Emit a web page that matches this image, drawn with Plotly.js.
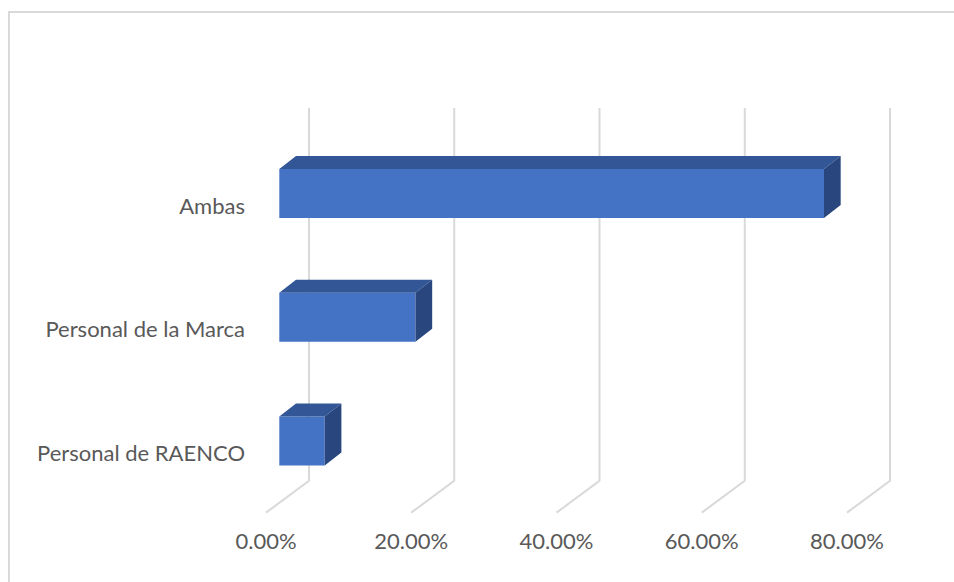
<!DOCTYPE html>
<html>
<head>
<meta charset="utf-8">
<script src="https://cdn.plot.ly/plotly-3.0.1.min.js"></script>
<style>html,body{margin:0;padding:0;background:#fff;}#chart{width:954px;height:582px;}</style>
</head>
<body>
<div id="chart"></div>
<script>
// ---- data ----
var categories = ["Personal de RAENCO", "Personal de la Marca", "Ambas"];
var values = [6.25, 18.75, 75];            // percent
var tickValues = [0, 20, 40, 60, 80];
var tickLabels = ["0.00%", "20.00%", "40.00%", "60.00%", "80.00%"];

// ---- 3D look parameters (in axis units) ----
var barHalf = 0.198;     // half bar thickness (category units)
var depthX = 2.3;        // bar depth, x offset (percent units)
var depthY = 0.105;      // bar depth, y offset (category units)
var wallX = 4.09;        // back wall offset of gridlines
var floorX = -1.83;      // front edge of floor
var wallTop = 2.691, wallBottom = -0.321, floorFront = -0.579;
var labelShiftY = 0.1;

var pos = categories.map(function(_, i){ return i; });

// gridlines (back wall + floor)
var gx = [], gy = [];
tickValues.forEach(function(v){
  gx.push(v + wallX, v + wallX, v + floorX, null);
  gy.push(wallTop, wallBottom, floorFront, null);
});

// top faces and side faces
var tx = [], ty = [], sx = [], sy = [];
values.forEach(function(v, i){
  var c = pos[i], top = c + barHalf, bot = c - barHalf;
  tx.push(0, v, v + depthX, depthX, 0, null);
  ty.push(top, top, top + depthY, top + depthY, top, null);
  sx.push(v, v, v + depthX, v + depthX, v, null);
  sy.push(bot, top, top + depthY, bot + depthY, bot, null);
});

var L = 250, R = 44, T = 90, B = 56, W = 954, H = 582;
var pxPerX = 7.2625, pxPerY = 123.75;
var x0 = -(279.3 - L) / pxPerX;
var x1 = x0 + (W - L - R) / pxPerX;
var y1 = (441 - T) / pxPerY;
var y0 = y1 - (H - T - B) / pxPerY;

var data = [
  {type: "scatter", mode: "lines", x: gx, y: gy, xaxis: "x", yaxis: "y",
   line: {color: "#d9d9d9", width: 2}, hoverinfo: "skip", showlegend: false},
  {type: "bar", orientation: "h", x: values, y: pos, base: 0, width: 2 * barHalf,
   xaxis: "x2", yaxis: "y2",
   marker: {color: "#4472C4", line: {width: 0}}, hoverinfo: "skip", showlegend: false},
  {type: "scatter", mode: "none", x: tx, y: ty, fill: "toself", fillcolor: "#325696",
   xaxis: "x2", yaxis: "y2", hoverinfo: "skip", showlegend: false},
  {type: "scatter", mode: "none", x: sx, y: sy, fill: "toself", fillcolor: "#29477E",
   xaxis: "x2", yaxis: "y2", hoverinfo: "skip", showlegend: false}
];

var plotW = W - L - R, plotH = H - T - B;
var hidden = {showgrid: false, zeroline: false, showline: false, ticks: "", showticklabels: false, fixedrange: true};
var layout = {
  width: W, height: H,
  margin: {l: L, r: R, t: T, b: B},
  paper_bgcolor: "#ffffff", plot_bgcolor: "rgba(0,0,0,0)",
  font: {family: "Lato, 'Open Sans', sans-serif", size: 22, color: "#595959"},
  showlegend: false,
  xaxis: {
    range: [x0, x1], showgrid: false, zeroline: false, showline: false, ticks: "",
    tickmode: "array",
    tickvals: tickValues.map(function(v){ return v + floorX; }),
    ticktext: tickLabels, fixedrange: true
  },
  yaxis: {
    range: [y0, y1], showgrid: false, zeroline: false, showline: false, ticks: "",
    tickmode: "array", ticklabelstandoff: 4,
    tickvals: pos.map(function(p){ return p - labelShiftY; }),
    ticktext: categories, fixedrange: true
  },
  xaxis2: Object.assign({range: [x0, x1], overlaying: "x", anchor: "y2"}, hidden),
  yaxis2: Object.assign({range: [y0, y1], overlaying: "y", anchor: "x2"}, hidden),
  shapes: [{
    type: "rect", xref: "paper", yref: "paper", layer: "below",
    x0: (9 - L) / plotW, x1: (W + 20 - L) / plotW,
    y0: -(H + 20 - T - plotH) / plotH, y1: 1 + (T - 12) / plotH,
    line: {color: "#d9d9d9", width: 2}, fillcolor: "rgba(0,0,0,0)"
  }]
};

Plotly.newPlot("chart", data, layout, {displayModeBar: false, staticPlot: true});
</script>
</body>
</html>
